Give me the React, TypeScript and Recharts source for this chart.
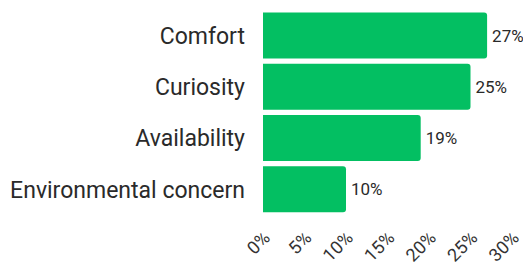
import { Bar, BarChart, LabelList, XAxis, YAxis } from "recharts";

const reasons = ["Comfort", "Curiosity", "Availability", "Environmental concern"];
const shares = [27, 25, 19, 10];
const xTicks = [0, 5, 10, 15, 20, 25, 30];

const data = reasons.map((reason, i) => ({ reason, share: shares[i] }));

// rotated percent ticks, anchored at the end of the text
function XTick({ x, y, payload }: any) {
  return (
    <g transform={`translate(${x + 8},${y + 16}) rotate(-45)`}>
      <text x={0} y={0} textAnchor="end" fill="#333" fontSize={18} fontFamily="Roboto">
        {`${payload.value}%`}
      </text>
    </g>
  );
}

export default function App() {
  return (
    <div style={{ position: "absolute", left: 0, top: 0, background: "#fff" }}>
      <BarChart
        width={523}
        height={264}
        data={data}
        layout="vertical"
        margin={{ top: 10, right: 11, bottom: 0, left: 0 }}
        barCategoryGap="5%"
      >
        <XAxis
          type="number"
          domain={[0, 30]}
          ticks={xTicks}
          axisLine={false}
          tickLine={false}
          height={49}
          interval={0}
          tick={<XTick />}
        />
        <YAxis
          type="category"
          dataKey="reason"
          width={263}
          axisLine={false}
          tickLine={false}
          tickMargin={12}
          tick={{ fill: "#2a2a2a", fontSize: 23, fontFamily: "Roboto" }}
        />
        <Bar dataKey="share" fill="#03bf62" radius={[0, 3, 3, 0]} isAnimationActive={false}>
          <LabelList
            dataKey="share"
            position="right"
            offset={5}
            formatter={(v: any) => `${v}%`}
            style={{ fill: "#2a2a2a", fontSize: 17, fontFamily: "Roboto" }}
          />
        </Bar>
      </BarChart>
    </div>
  );
}
